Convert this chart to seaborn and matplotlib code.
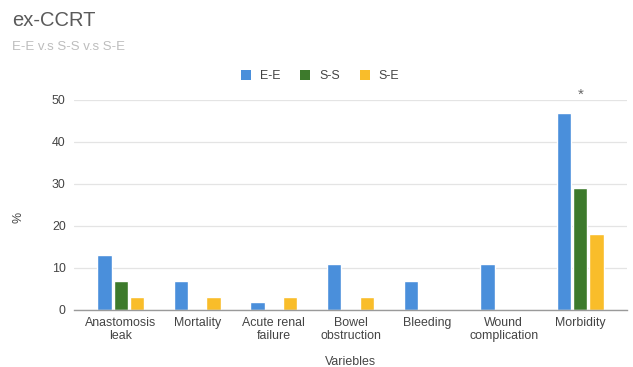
import matplotlib
matplotlib.use("Agg")
import matplotlib.pyplot as plt
import seaborn as sns
import pandas as pd
from matplotlib.patches import Patch

categories = ["Anastomosis\nleak", "Mortality", "Acute renal\nfailure", "Bowel\nobstruction",
              "Bleeding", "Wound\ncomplication", "Morbidity"]
groups = ["E-E", "S-S", "S-E"]
ee = [13, 7, 2, 11, 7, 11, 47]
ss = [7, 0, 0, 0, 0, 0, 29]
se = [3, 3, 3, 3, 0, 0, 18]
colors = ["#4a8fdb", "#3d7a2c", "#f9bd2a"]

rows = []
for g, vals in zip(groups, [ee, ss, se]):
    for c, v in zip(categories, vals):
        rows.append({"Variable": c, "Group": g, "Value": v})
df = pd.DataFrame(rows)

sns.set_theme(style="white")
plt.rcParams['font.family'] = ['Liberation Sans', 'DejaVu Sans']

fs = 8.9
fig = plt.figure(figsize=(6.33, 3.67), dpi=100)
ax = fig.add_axes([74/633, 1-310/367, (627-74)/633, (310-100)/367])

sns.barplot(data=df, x="Variable", y="Value", hue="Group", hue_order=groups,
            palette=colors, width=0.64, gap=0.12, ax=ax, legend=False,
            saturation=1, order=categories)

ax.set_ylim(0, 50)
ax.set_xlim(-0.61, 6.61)
ax.set_yticks([0, 10, 20, 30, 40, 50])
ax.set_xticks(range(len(categories)))
ax.set_xticklabels(categories, linespacing=1.1)
ax.grid(axis="y", color="#e4e4e4", linewidth=0.9)
ax.set_axisbelow(True)
for s in ["top", "right", "left"]:
    ax.spines[s].set_visible(False)
ax.spines["bottom"].set_color("#9a9a9a")
ax.spines["bottom"].set_linewidth(1.0)
ax.tick_params(axis="both", length=0, labelsize=fs, labelcolor="#444444")
ax.tick_params(axis="y", pad=6)
ax.tick_params(axis="x", pad=5)

ax.set_xlabel("Variebles", fontsize=fs, color="#444444")
ax.xaxis.set_label_coords(0.5, -46/210)
ax.set_ylabel("%", fontsize=fs, color="#444444")
ax.yaxis.set_label_coords(-50/553, 0.44)

ax.annotate("*", xy=(6, 50), xytext=(0, -1), textcoords="offset points",
            ha="center", va="bottom", fontsize=11, color="#666666", annotation_clip=False)

fig.text(12/633, 1-20/367, "ex-CCRT", fontsize=14.5, color="#5a5a5a", va="center", ha="left")
fig.text(12/633, 1-47/367, "E-E v.s S-S v.s S-E", fontsize=9.5, color="#bdbdbd", va="center", ha="left")

handles = [Patch(facecolor=c, edgecolor="none", label=g) for g, c in zip(groups, colors)]
leg = fig.legend(handles=handles, loc="center", bbox_to_anchor=(320/633, 1-76/367), ncol=3,
                 frameon=False, fontsize=fs, handlelength=0.85, handleheight=0.85,
                 columnspacing=1.6, handletextpad=0.7)
for t in leg.get_texts():
    t.set_color("#444444")

fig.savefig("out.png", dpi=100)
